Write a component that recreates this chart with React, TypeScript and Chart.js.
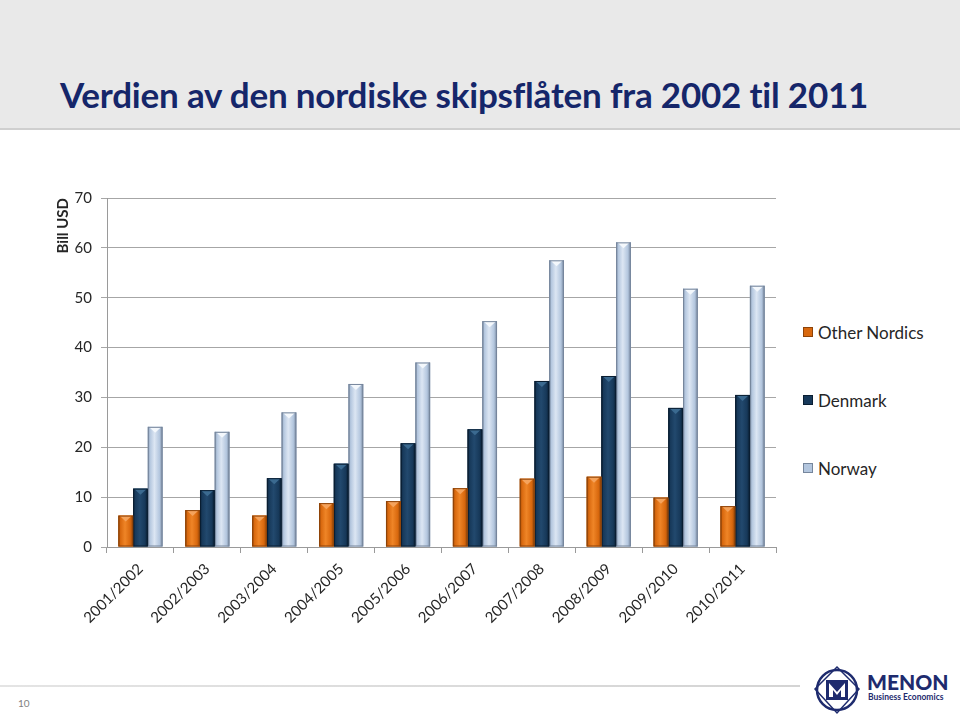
import React, { useEffect, useRef } from "react";
import { Chart, registerables } from "chart.js";

Chart.register(...registerables);

const categories = [
  "2001/2002", "2002/2003", "2003/2004", "2004/2005", "2005/2006",
  "2006/2007", "2007/2008", "2008/2009", "2009/2010", "2010/2011",
];
const otherNordics = [6.3, 7.4, 6.3, 8.8, 9.2, 11.8, 13.7, 14.1, 9.9, 8.2];
const denmark = [11.7, 11.4, 13.8, 16.7, 20.8, 23.6, 33.3, 34.3, 27.9, 30.5];
const norway = [24.1, 23.1, 27.0, 32.7, 37.0, 45.3, 57.5, 61.1, 51.8, 52.4];
const seriesNames = ["Other Nordics", "Denmark", "Norway"];
const yMax = 70;
const yStep = 10;

const FONT = "Lato, 'Open Sans', sans-serif";

type Shade = { edge: string; mid: string; hi: string; top: string; legend: string };
const shades: Shade[] = [
  { edge: "#8E4308", mid: "#D8680E", hi: "#EF8527", top: "#F5A35C", legend: "#D8680E" },
  { edge: "#0A1E32", mid: "#17395A", hi: "#22496E", top: "#3B6A90", legend: "#17395A" },
  { edge: "#76869C", mid: "#B3C6DE", hi: "#DCE6F3", top: "#F4F8FC", legend: "#B3C6DE" },
];

const bevelPlugin = {
  id: "bevelBars",
  afterDatasetDraw(chart: any, args: any) {
    const ctx = chart.ctx;
    const meta = args.meta;
    const s = shades[args.index];
    ctx.save();
    meta.data.forEach((bar: any) => {
      const { x, y, base, width } = bar.getProps(["x", "y", "base", "width"], true);
      const l = x - width / 2;
      const r = x + width / 2;
      const g = ctx.createLinearGradient(l, 0, r, 0);
      g.addColorStop(0, s.edge);
      g.addColorStop(0.14, s.mid);
      g.addColorStop(0.45, s.hi);
      g.addColorStop(0.8, s.mid);
      g.addColorStop(1, s.edge);
      ctx.fillStyle = g;
      ctx.fillRect(l, y, width, base - y);
      ctx.beginPath();
      ctx.moveTo(l + 1, y);
      ctx.lineTo(r - 1, y);
      ctx.lineTo(x, y + 6);
      ctx.closePath();
      ctx.fillStyle = s.top;
      ctx.fill();
      ctx.strokeStyle = s.edge;
      ctx.lineWidth = 1;
      ctx.strokeRect(l + 0.5, y + 0.5, width - 1, base - y - 1);
    });
    ctx.restore();
  },
};

function ChartCanvas() {
  const ref = useRef<HTMLCanvasElement | null>(null);
  useEffect(() => {
    if (!ref.current) return;
    const data = [otherNordics, denmark, norway];
    const chart = new Chart(ref.current, {
      type: "bar",
      data: {
        labels: categories,
        datasets: data.map((d, i) => ({
          label: seriesNames[i],
          data: d,
          backgroundColor: shades[i].mid,
          borderWidth: 0,
          barPercentage: 1.0,
          categoryPercentage: 0.66,
        })),
      },
      plugins: [bevelPlugin],
      options: {
        responsive: false,
        animation: false,
        devicePixelRatio: 1,
        layout: { padding: { top: 15, right: 14, left: 0, bottom: 0 } },
        plugins: {
          legend: { display: false },
          tooltip: { enabled: false },
          title: { display: false },
        },
        scales: {
          x: {
            offset: true,
            grid: {
              offset: true,
              drawOnChartArea: false,
              drawTicks: true,
              tickLength: 6,
              color: "#9a9a9a",
            },
            border: { display: true, color: "#9a9a9a", width: 1 },
            ticks: {
              minRotation: 45,
              maxRotation: 45,
              autoSkip: false,
              padding: 7,
              color: "#262626",
              font: { family: FONT, size: 15 },
            },
            afterFit: (scale: any) => {
              scale.height = 93;
            },
          },
          y: {
            min: 0,
            max: yMax,
            ticks: {
              stepSize: yStep,
              padding: 9,
              color: "#262626",
              font: { family: FONT, size: 15 },
            },
            grid: {
              color: "#a6a6a6",
              lineWidth: 1,
              tickLength: 6,
            },
            border: { display: true, color: "#9a9a9a", width: 1 },
            title: {
              display: true,
              text: "Bill USD",
              align: "end",
              color: "#262626",
              font: { family: FONT, size: 15, weight: "bold" },
              padding: { top: 54, bottom: 0 },
            },
            afterFit: (scale: any) => {
              scale.width = 107;
            },
          },
        },
      },
    } as any);
    return () => chart.destroy();
  }, []);
  return (
    <canvas
      ref={ref}
      width={790}
      height={460}
      style={{ position: "absolute", left: 0, top: 180, width: 790, height: 460 }}
    />
  );
}

export default function App() {
  const legendTop = [332, 400, 468];
  return (
    <div
      style={{
        position: "absolute",
        left: 0,
        top: 0,
        width: 960,
        height: 715,
        background: "#ffffff",
        overflow: "hidden",
        fontFamily: FONT,
      }}
    >
      <div
        style={{
          position: "absolute",
          left: 0,
          top: 0,
          width: 960,
          height: 128,
          background: "#e9e9e9",
          borderBottom: "2px solid #cfcfcf",
        }}
      />
      <div
        style={{
          position: "absolute",
          left: 60,
          top: 72,
          fontSize: 35,
          fontWeight: 700,
          color: "#15266A",
          whiteSpace: "nowrap",
          lineHeight: "44px",
          letterSpacing: "-0.2px",
        }}
      >
        Verdien av den nordiske skipsflåten fra 2002 til 2011
      </div>

      <ChartCanvas />

      {seriesNames.map((name, i) => (
        <div
          key={name}
          style={{
            position: "absolute",
            left: 803,
            top: legendTop[i] - 11,
            height: 22,
            display: "flex",
            alignItems: "center",
            whiteSpace: "nowrap",
          }}
        >
          <span
            style={{
              display: "inline-block",
              width: 10,
              height: 10,
              background: shades[i].legend,
              border: `1px solid ${shades[i].edge}`,
              boxSizing: "border-box",
              marginRight: 5,
            }}
          />
          <span style={{ fontSize: 17, color: "#262626" }}>{name}</span>
        </div>
      ))}

      <div
        style={{
          position: "absolute",
          left: 0,
          top: 685,
          width: 800,
          height: 2,
          background: "linear-gradient(to right, #e4e4e4, #d4d4d4)",
        }}
      />
      <div style={{ position: "absolute", left: 18, top: 697, fontSize: 10, color: "#7f7f7f" }}>10</div>

      <svg
        style={{ position: "absolute", left: 812, top: 665 }}
        width={52}
        height={50}
        viewBox="0 0 52 50"
      >
        <circle cx={25} cy={25} r={20} fill="none" stroke="#1E2B6E" strokeWidth={2.5} />
        <polygon points="25,2 47,24 25,48 3,24" fill="none" stroke="#1E2B6E" strokeWidth={1.5} />
        <rect x={14} y={15} width={22} height={20} fill="#1E2B6E" />
        <polygon points="17,18 25,27 33,18 33,32 29,32 29,25 25,30 21,25 21,32 17,32" fill="#ffffff" />
      </svg>
      <div
        style={{
          position: "absolute",
          left: 867,
          top: 670,
          fontSize: 21,
          fontWeight: 900,
          color: "#1E2B6E",
          lineHeight: "24px",
        }}
      >
        MENON
      </div>
      <div
        style={{
          position: "absolute",
          left: 868,
          top: 692,
          fontSize: 8.5,
          fontWeight: 700,
          color: "#1E2B6E",
          whiteSpace: "nowrap",
        }}
      >
        Business Economics
      </div>
    </div>
  );
}
